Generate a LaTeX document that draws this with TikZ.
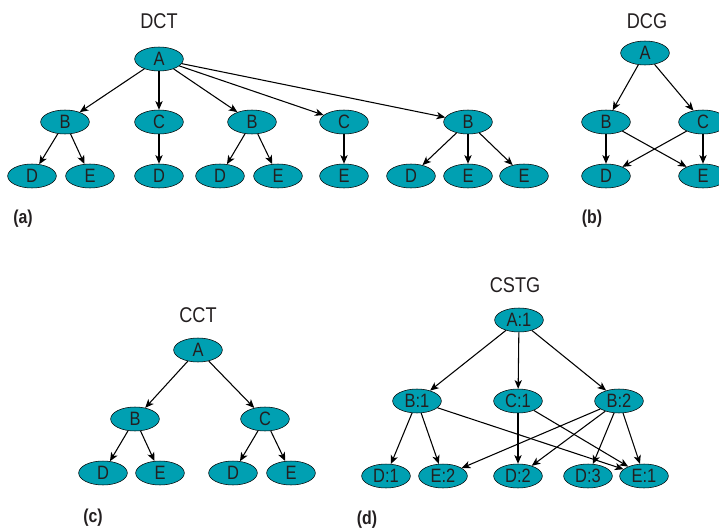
\documentclass[tikz,border=0pt]{standalone}
\usepackage{fontspec}
\setmainfont{Liberation Sans}
\newfontfamily\narrowfont[FakeStretch=0.85]{Liberation Sans}
\usetikzlibrary{shapes.geometric,arrows.meta}
\definecolor{nodeteal}{HTML}{00A0B2}
\definecolor{inkgray}{HTML}{231F20}
\begin{document}
\begin{tikzpicture}
          [x=0.75pt,y=-0.75pt,
          font=\narrowfont\fontsize{14.5}{15}\selectfont,
          node/.style={shape=ellipse,draw=black,fill=nodeteal,text=inkgray,minimum width=36.5pt,minimum height=18pt,inner sep=0pt},
          title/.style={text=inkgray,font=\narrowfont\fontsize{16}{17}\selectfont},
          tag/.style={text=inkgray,font=\narrowfont\fontsize{14}{15}\selectfont\bfseries},
          arc/.style={->,>={Stealth[length=6.5pt,width=5.5pt,inset=1.8pt]},line width=0.8pt}]

            \useasboundingbox (0,0) rectangle (719,529);

            % (a) DCT
            \node (ta) [title] at (159,21) {DCT};
            \node (aA) [node] at (159,59) {A};
            \node (aB1) [node] at (65,122) {B};
            \node (aC1) [node] at (159,122) {C};
            \node (aB2) [node] at (252,122) {B};
            \node (aC2) [node] at (344,122) {C};
            \node (aB3) [node] at (468,122) {B};
            \node (aD1) [node] at (32,176) {D};
            \node (aE1) [node] at (90,176) {E};
            \node (aD2) [node] at (159,176) {D};
            \node (aD3) [node] at (220,176) {D};
            \node (aE2) [node] at (278,176) {E};
            \node (aE3) [node] at (344,176) {E};
            \node (aD4) [node] at (411,176) {D};
            \node (aE4) [node] at (468,176) {E};
            \node (aE5) [node] at (524,176) {E};
            \node (la) [tag] at (23,219) {(a)};

            \draw [arc] (aA) to (aB1);
            \draw [arc] (aA) to (aC1);
            \draw [arc] (aA) to (aB2);
            \draw [arc] (aA) to (aC2);
            \draw [arc] (aA) to (aB3);
            \draw [arc] (aB1) to (aD1);
            \draw [arc] (aB1) to (aE1);
            \draw [arc] (aC1) to (aD2);
            \draw [arc] (aB2) to (aD3);
            \draw [arc] (aB2) to (aE2);
            \draw [arc] (aC2) to (aE3);
            \draw [arc] (aB3) to (aD4);
            \draw [arc] (aB3) to (aE4);
            \draw [arc] (aB3) to (aE5);

            % (b) DCG
            \node (tb) [title] at (647,21) {DCG};
            \node (bA) [node] at (645,53) {A};
            \node (bB) [node] at (606,122) {B};
            \node (bC) [node] at (703,122) {C};
            \node (bD) [node] at (606,176) {D};
            \node (bE) [node] at (703,176) {E};
            \node (lb) [tag] at (592,219) {(b)};

            \draw [arc] (bA) to (bB);
            \draw [arc] (bA) to (bC);
            \draw [arc] (bB) to (bD);
            \draw [arc] (bB) to (bE);
            \draw [arc] (bC) to (bD);
            \draw [arc] (bC) to (bE);

            % (c) CCT
            \node (tc) [title] at (198,315) {CCT};
            \node (cA) [node] at (198,350) {A};
            \node (cB) [node] at (135,419) {B};
            \node (cC) [node] at (265,419) {C};
            \node (cD1) [node] at (103,473) {D};
            \node (cE1) [node] at (160,473) {E};
            \node (cD2) [node] at (233,473) {D};
            \node (cE2) [node] at (291,473) {E};
            \node (lc) [tag] at (93,518) {(c)};

            \draw [arc] (cA) to (cB);
            \draw [arc] (cA) to (cC);
            \draw [arc] (cB) to (cD1);
            \draw [arc] (cB) to (cE1);
            \draw [arc] (cC) to (cD2);
            \draw [arc] (cC) to (cE2);

            % (d) CSTG
            \node (td) [title] at (515,285) {CSTG};
            \node (dA) [node] at (519,320) {A:1};
            \node (dB1) [node] at (417,401) {B:1};
            \node (dC1) [node] at (518,401) {C:1};
            \node (dB2) [node] at (619,401) {B:2};
            \node (dD1) [node] at (386,476) {D:1};
            \node (dE2) [node] at (443,476) {E:2};
            \node (dD2) [node] at (518,476) {D:2};
            \node (dD3) [node] at (588,476) {D:3};
            \node (dE1) [node] at (644,476) {E:1};
            \node (ld) [tag] at (367,520) {(d)};

            \draw [arc] (dA) to (dB1);
            \draw [arc] (dA) to (dC1);
            \draw [arc] (dA) to (dB2);
            \draw [arc] (dB1) to (dD1);
            \draw [arc] (dB1) to (dE2);
            \draw [arc] (dB1) to (dE1);
            \draw [arc] (dC1) to (dD2);
            \draw [arc] (dC1) to (dE1);
            \draw [arc] (dB2) to (dE2);
            \draw [arc] (dB2) to (dD2);
            \draw [arc] (dB2) to (dD3);
            \draw [arc] (dB2) to (dE1);

        \end{tikzpicture}
\end{document}
